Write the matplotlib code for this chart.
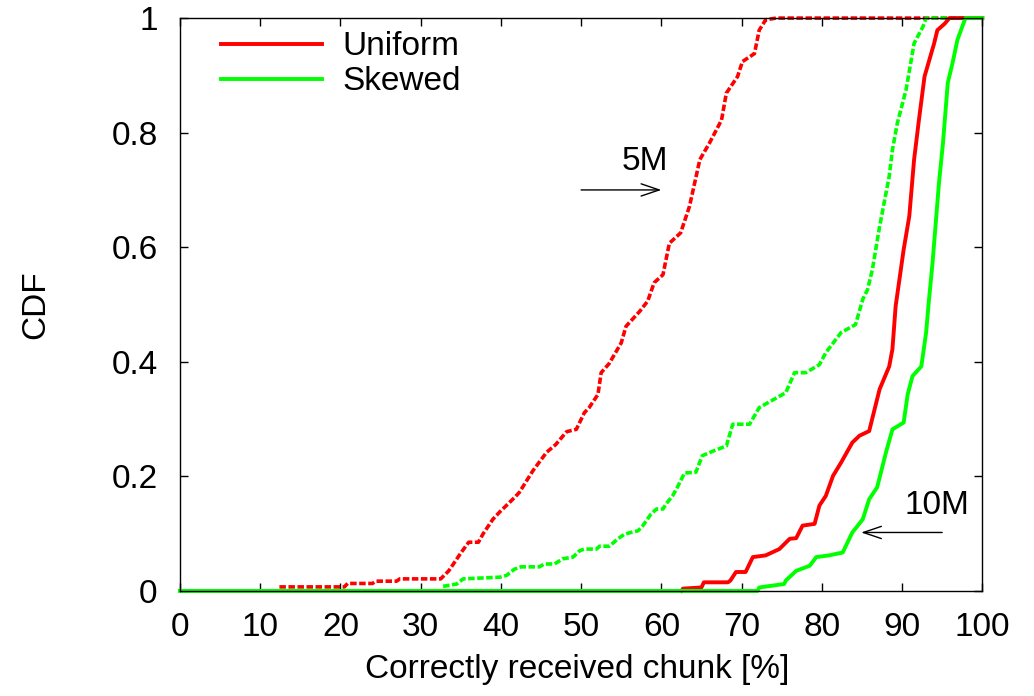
import matplotlib
matplotlib.use("Agg")
import matplotlib.pyplot as plt

plt.rcParams['font.family'] = ['Liberation Sans', 'DejaVu Sans']

# CDF samples: correctly received chunk [%] vs cumulative fraction
uniform_5m_x = [12.4, 20.5, 20.9, 24.0, 24.4, 27.0, 27.4, 32.5, 33.5, 35.1, 36.0, 37.2, 37.8,
                39.0, 39.8, 41.7, 42.3, 44.0, 45.7, 46.8, 48.2, 49.4, 50.4, 51.0, 52.1, 52.5,
                53.5, 55.0, 55.6, 57.3, 58.3, 59.1, 60.2, 61.0, 62.4, 63.5, 64.8, 66.0, 67.5,
                68.1, 69.5, 70.1, 71.6, 72.2, 73.0, 74.3, 100.0]
uniform_5m_y = [0.007, 0.007, 0.013, 0.013, 0.017, 0.017, 0.021, 0.021, 0.035, 0.068, 0.085, 0.085, 0.1,
                0.125, 0.137, 0.163, 0.172, 0.21, 0.242, 0.255, 0.278, 0.282, 0.311, 0.32, 0.343, 0.381,
                0.397, 0.433, 0.462, 0.488, 0.506, 0.538, 0.552, 0.607, 0.625, 0.671, 0.753, 0.782, 0.822,
                0.869, 0.898, 0.924, 0.938, 0.979, 0.997, 1.0, 1.0]

skewed_5m_x = [32.8, 34.5, 35.3, 39.9, 40.7, 41.7, 42.5, 44.8, 45.4, 46.7, 47.7, 49.0, 49.8, 50.4,
               51.9, 52.3, 53.5, 54.6, 55.4, 56.2, 57.1, 57.7, 58.1, 58.7, 59.4, 60.2, 60.6, 61.4,
               62.0, 62.5, 62.9, 64.3, 65.1, 66.6, 68.1, 68.9, 71.0, 72.2, 75.5, 76.6, 78.0, 79.7,
               80.5, 82.4, 84.2, 85.1, 85.7, 86.3, 87.2, 88.4, 88.8, 89.4, 90.5, 91.5, 92.6, 93.0, 100.0]
skewed_5m_y = [0.008, 0.012, 0.021, 0.024, 0.027, 0.038, 0.042, 0.042, 0.047, 0.047, 0.056, 0.059, 0.07, 0.073,
               0.073, 0.078, 0.078, 0.091, 0.099, 0.102, 0.105, 0.114, 0.122, 0.134, 0.143, 0.143, 0.152, 0.166,
               0.181, 0.195, 0.206, 0.207, 0.236, 0.245, 0.253, 0.291, 0.291, 0.32, 0.346, 0.381, 0.381, 0.395,
               0.416, 0.451, 0.465, 0.509, 0.526, 0.561, 0.636, 0.724, 0.77, 0.816, 0.875, 0.956, 0.985, 1.0, 1.0]

uniform_10m_x = [62.5, 62.7, 65.0, 65.3, 68.3, 68.6, 69.3, 70.5, 71.4, 73.0, 74.7, 76.0, 76.8, 77.6,
                 79.1, 79.7, 80.5, 81.4, 82.4, 83.0, 83.8, 84.7, 85.9, 87.2, 88.4, 88.8, 89.2, 90.2,
                 90.9, 91.5, 92.1, 92.8, 93.4, 94.0, 94.4, 95.3, 95.9, 100.0]
uniform_10m_y = [0.0, 0.004, 0.006, 0.015, 0.015, 0.018, 0.033, 0.033, 0.059, 0.062, 0.073, 0.091, 0.092, 0.114,
                 0.117, 0.149, 0.166, 0.201, 0.224, 0.239, 0.259, 0.271, 0.279, 0.352, 0.392, 0.422, 0.497, 0.596,
                 0.654, 0.753, 0.822, 0.898, 0.927, 0.956, 0.979, 0.99, 1.0, 1.0]

skewed_10m_x = [0.0, 72.0, 72.2, 75.3, 75.5, 76.8, 78.5, 79.3, 80.9, 82.6, 83.8, 85.1, 85.9, 86.9,
                88.0, 88.8, 90.2, 90.7, 91.3, 92.4, 93.0, 93.3, 93.8, 94.6, 95.1, 95.7, 96.3, 96.9,
                97.5, 97.9, 100.0]
skewed_10m_y = [0.0, 0.0, 0.006, 0.012, 0.018, 0.035, 0.044, 0.059, 0.062, 0.067, 0.102, 0.125, 0.16, 0.181,
                0.242, 0.282, 0.294, 0.343, 0.375, 0.392, 0.451, 0.5, 0.573, 0.712, 0.782, 0.887, 0.922, 0.962,
                0.985, 1.0, 1.0]

x_ticks = [0, 10, 20, 30, 40, 50, 60, 70, 80, 90, 100]
y_ticks = [0, 0.2, 0.4, 0.6, 0.8, 1]
y_tick_labels = ["0", "0.2", "0.4", "0.6", "0.8", "1"]
legend_labels = ["Uniform", "Skewed"]

RED = "#ff0000"
GREEN = "#00ff00"
FS = 24
dash = (0, (1.8, 0.7))

fig = plt.figure(figsize=(10.34, 6.96), dpi=100)
ax = fig.add_axes([0.174, 0.151, 0.776, 0.823])

ax.plot(uniform_5m_x, uniform_5m_y, color=RED, lw=2.6, linestyle=dash, dash_capstyle='butt', clip_on=False)
ax.plot(skewed_5m_x, skewed_5m_y, color=GREEN, lw=2.6, linestyle=dash, dash_capstyle='butt', clip_on=False)
ax.plot(uniform_10m_x, uniform_10m_y, color=RED, lw=2.8, clip_on=False)
ax.plot(skewed_10m_x, skewed_10m_y, color=GREEN, lw=2.8, clip_on=False)

ax.set_xlim(0, 100)
ax.set_ylim(0, 1)
ax.set_xticks(x_ticks)
ax.set_yticks(y_ticks)
ax.set_yticklabels(y_tick_labels)
ax.tick_params(direction='in', length=5.5, width=1, top=True, right=True,
               labelsize=FS)
ax.tick_params(axis='y', pad=16)
ax.tick_params(axis='x', pad=15)
for s in ax.spines.values():
    s.set_linewidth(1)

ax.set_xlabel("Correctly received chunk [%]", fontsize=FS)
ax.set_ylabel("CDF", fontsize=FS)
ax.xaxis.set_label_coords(0.495, -0.111)
ax.yaxis.set_label_coords(-0.16, 0.5)

# key drawn by hand so the samples sit where gnuplot puts them
for (ly, ty), c, lab in zip([(0.955, 0.935), (0.894, 0.874)], [RED, GREEN], legend_labels):
    ax.plot([0.051, 0.177], [ly, ly], color=c, lw=2.8, transform=ax.transAxes)
    ax.text(0.203, ty, lab, fontsize=FS, transform=ax.transAxes, va='baseline')

# annotations for the two file sizes
arrow = dict(arrowstyle='->,head_length=0.65,head_width=0.22', lw=1, color='black',
             shrinkA=0, shrinkB=0, mutation_scale=20)
ax.annotate("", xy=(60.0, 0.70), xytext=(50.0, 0.70), arrowprops=arrow)
ax.text(58.0, 0.75, "5M", fontsize=FS, ha='center', va='center')
ax.annotate("", xy=(84.9, 0.102), xytext=(95.0, 0.102), arrowprops=arrow)
ax.text(94.3, 0.149, "10M", fontsize=FS, ha='center', va='center')

fig.savefig("out.png", dpi=100)
